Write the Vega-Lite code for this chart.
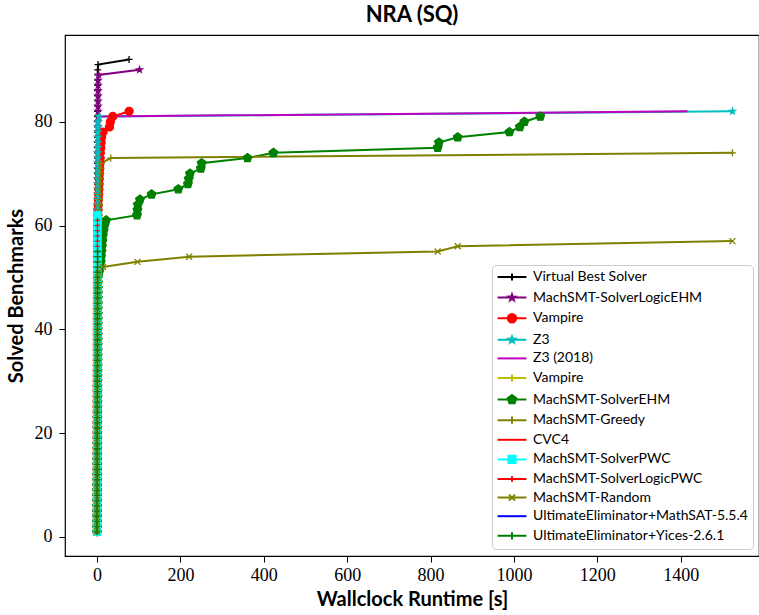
{
"$schema":"https://vega.github.io/schema/vega-lite/v6.json",
"autosize":"none",
"width":694,"height":521,
"padding":{"left":65,"top":35,"right":0,"bottom":59},
"background":"white",
"title":{"text":"NRA (SQ)","font":"Lato","fontSize":22,"fontWeight":"bold","color":"black","anchor":"middle","offset":8},
"config":{
"view":{"stroke":"black","strokeWidth":1.2},
"axis":{"grid":false,"domain":false,"tickColor":"black","tickSize":6,"tickWidth":1,"labelFont":"Liberation Serif","labelFontSize":18,"labelColor":"black","titleFont":"Lato","titleFontSize":20,"titleFontWeight":"bold","titleColor":"black"},
"axisX":{"labelPadding":4,"titlePadding":5},
"axisY":{"labelPadding":7,"titlePadding":8}
},
"data":{"values":[
{"s":"a","t":0.02,"n":1},{"s":"a","t":0.04,"n":2},{"s":"a","t":0.06,"n":3},{"s":"a","t":0.08,"n":4},{"s":"a","t":0.1,"n":5},{"s":"a","t":0.12,"n":6},{"s":"a","t":0.14,"n":7},{"s":"a","t":0.16,"n":8},{"s":"a","t":0.18,"n":9},{"s":"a","t":0.2,"n":10},
{"s":"a","t":0.22,"n":11},{"s":"a","t":0.24,"n":12},{"s":"a","t":0.26,"n":13},{"s":"a","t":0.28,"n":14},{"s":"a","t":0.3,"n":15},{"s":"a","t":0.32,"n":16},{"s":"a","t":0.34,"n":17},{"s":"a","t":0.36,"n":18},{"s":"a","t":0.38,"n":19},{"s":"a","t":0.4,"n":20},
{"s":"a","t":0.42,"n":21},{"s":"a","t":0.44,"n":22},{"s":"a","t":0.46,"n":23},{"s":"a","t":0.48,"n":24},{"s":"a","t":0.5,"n":25},{"s":"a","t":0.52,"n":26},{"s":"a","t":0.54,"n":27},{"s":"a","t":0.56,"n":28},{"s":"a","t":0.58,"n":29},{"s":"a","t":0.6,"n":30},
{"s":"a","t":0.62,"n":31},{"s":"a","t":0.64,"n":32},{"s":"a","t":0.66,"n":33},{"s":"a","t":0.68,"n":34},{"s":"a","t":0.7,"n":35},{"s":"a","t":0.72,"n":36},{"s":"a","t":0.74,"n":37},{"s":"a","t":0.76,"n":38},{"s":"a","t":0.78,"n":39},{"s":"a","t":0.8,"n":40},
{"s":"a","t":0.82,"n":41},{"s":"a","t":0.84,"n":42},{"s":"a","t":0.86,"n":43},{"s":"a","t":0.88,"n":44},{"s":"a","t":0.9,"n":45},{"s":"a","t":0.92,"n":46},{"s":"a","t":0.94,"n":47},{"s":"a","t":0.96,"n":48},{"s":"a","t":0.98,"n":49},{"s":"a","t":1.0,"n":50},
{"s":"a","t":1.02,"n":51},{"s":"a","t":1.04,"n":52},{"s":"a","t":1.06,"n":53},{"s":"a","t":1.08,"n":54},{"s":"a","t":1.1,"n":55},{"s":"a","t":1.12,"n":56},{"s":"a","t":1.14,"n":57},{"s":"a","t":1.16,"n":58},{"s":"a","t":1.18,"n":59},{"s":"a","t":1.2,"n":60},
{"s":"a","t":1.22,"n":61},{"s":"a","t":1.24,"n":62},{"s":"a","t":1.26,"n":63},{"s":"a","t":1.28,"n":64},{"s":"a","t":1.3,"n":65},{"s":"a","t":1.32,"n":66},{"s":"a","t":1.34,"n":67},{"s":"a","t":1.36,"n":68},{"s":"a","t":1.38,"n":69},{"s":"a","t":1.4,"n":70},
{"s":"a","t":1.42,"n":71},{"s":"a","t":1.44,"n":72},{"s":"a","t":1.46,"n":73},{"s":"a","t":1.48,"n":74},{"s":"a","t":1.5,"n":75},{"s":"a","t":1.52,"n":76},{"s":"a","t":1.54,"n":77},{"s":"a","t":1.56,"n":78},{"s":"a","t":1.58,"n":79},{"s":"a","t":1.6,"n":80},
{"s":"a","t":1.62,"n":81},{"s":"a","t":1.64,"n":82},{"s":"a","t":1.66,"n":83},{"s":"a","t":1.68,"n":84},{"s":"a","t":1.7,"n":85},{"s":"a","t":1.72,"n":86},{"s":"a","t":1.74,"n":87},{"s":"a","t":1.76,"n":88},{"s":"a","t":1.78,"n":89},{"s":"a","t":1.8,"n":90},
{"s":"a","t":2.5,"n":91},{"s":"a","t":77,"n":92},
{"s":"b","t":0.03,"n":1},{"s":"b","t":0.06,"n":2},{"s":"b","t":0.09,"n":3},{"s":"b","t":0.12,"n":4},{"s":"b","t":0.15,"n":5},{"s":"b","t":0.18,"n":6},{"s":"b","t":0.21,"n":7},{"s":"b","t":0.24,"n":8},{"s":"b","t":0.27,"n":9},{"s":"b","t":0.3,"n":10},
{"s":"b","t":0.33,"n":11},{"s":"b","t":0.36,"n":12},{"s":"b","t":0.39,"n":13},{"s":"b","t":0.42,"n":14},{"s":"b","t":0.45,"n":15},{"s":"b","t":0.48,"n":16},{"s":"b","t":0.51,"n":17},{"s":"b","t":0.54,"n":18},{"s":"b","t":0.57,"n":19},{"s":"b","t":0.6,"n":20},
{"s":"b","t":0.63,"n":21},{"s":"b","t":0.66,"n":22},{"s":"b","t":0.69,"n":23},{"s":"b","t":0.72,"n":24},{"s":"b","t":0.75,"n":25},{"s":"b","t":0.78,"n":26},{"s":"b","t":0.81,"n":27},{"s":"b","t":0.84,"n":28},{"s":"b","t":0.87,"n":29},{"s":"b","t":0.9,"n":30},
{"s":"b","t":0.93,"n":31},{"s":"b","t":0.96,"n":32},{"s":"b","t":0.99,"n":33},{"s":"b","t":1.02,"n":34},{"s":"b","t":1.05,"n":35},{"s":"b","t":1.08,"n":36},{"s":"b","t":1.11,"n":37},{"s":"b","t":1.14,"n":38},{"s":"b","t":1.17,"n":39},{"s":"b","t":1.2,"n":40},
{"s":"b","t":1.23,"n":41},{"s":"b","t":1.26,"n":42},{"s":"b","t":1.29,"n":43},{"s":"b","t":1.32,"n":44},{"s":"b","t":1.35,"n":45},{"s":"b","t":1.38,"n":46},{"s":"b","t":1.41,"n":47},{"s":"b","t":1.44,"n":48},{"s":"b","t":1.47,"n":49},{"s":"b","t":1.5,"n":50},
{"s":"b","t":1.53,"n":51},{"s":"b","t":1.56,"n":52},{"s":"b","t":1.59,"n":53},{"s":"b","t":1.62,"n":54},{"s":"b","t":1.65,"n":55},{"s":"b","t":1.68,"n":56},{"s":"b","t":1.71,"n":57},{"s":"b","t":1.74,"n":58},{"s":"b","t":1.77,"n":59},{"s":"b","t":1.8,"n":60},
{"s":"b","t":1.83,"n":61},{"s":"b","t":1.86,"n":62},{"s":"b","t":1.89,"n":63},{"s":"b","t":1.92,"n":64},{"s":"b","t":1.95,"n":65},{"s":"b","t":1.98,"n":66},{"s":"b","t":2.01,"n":67},{"s":"b","t":2.04,"n":68},{"s":"b","t":2.07,"n":69},{"s":"b","t":2.1,"n":70},
{"s":"b","t":2.13,"n":71},{"s":"b","t":2.16,"n":72},{"s":"b","t":2.19,"n":73},{"s":"b","t":2.22,"n":74},{"s":"b","t":2.25,"n":75},{"s":"b","t":2.28,"n":76},{"s":"b","t":2.31,"n":77},{"s":"b","t":2.34,"n":78},{"s":"b","t":2.37,"n":79},{"s":"b","t":2.4,"n":80},
{"s":"b","t":2.43,"n":81},{"s":"b","t":2.46,"n":82},{"s":"b","t":2.49,"n":83},{"s":"b","t":2.52,"n":84},{"s":"b","t":2.55,"n":85},{"s":"b","t":2.58,"n":86},{"s":"b","t":2.61,"n":87},{"s":"b","t":2.64,"n":88},{"s":"b","t":4,"n":89},{"s":"b","t":102,"n":90},
{"s":"c","t":0.02,"n":1},{"s":"c","t":0.04,"n":2},{"s":"c","t":0.06,"n":3},{"s":"c","t":0.08,"n":4},{"s":"c","t":0.1,"n":5},{"s":"c","t":0.12,"n":6},{"s":"c","t":0.14,"n":7},{"s":"c","t":0.16,"n":8},{"s":"c","t":0.18,"n":9},{"s":"c","t":0.2,"n":10},
{"s":"c","t":0.22,"n":11},{"s":"c","t":0.24,"n":12},{"s":"c","t":0.26,"n":13},{"s":"c","t":0.28,"n":14},{"s":"c","t":0.3,"n":15},{"s":"c","t":0.32,"n":16},{"s":"c","t":0.34,"n":17},{"s":"c","t":0.36,"n":18},{"s":"c","t":0.38,"n":19},{"s":"c","t":0.4,"n":20},
{"s":"c","t":0.42,"n":21},{"s":"c","t":0.44,"n":22},{"s":"c","t":0.46,"n":23},{"s":"c","t":0.48,"n":24},{"s":"c","t":0.5,"n":25},{"s":"c","t":0.52,"n":26},{"s":"c","t":0.54,"n":27},{"s":"c","t":0.56,"n":28},{"s":"c","t":0.58,"n":29},{"s":"c","t":0.6,"n":30},
{"s":"c","t":0.62,"n":31},{"s":"c","t":0.64,"n":32},{"s":"c","t":0.66,"n":33},{"s":"c","t":0.68,"n":34},{"s":"c","t":0.7,"n":35},{"s":"c","t":0.72,"n":36},{"s":"c","t":0.74,"n":37},{"s":"c","t":0.76,"n":38},{"s":"c","t":0.78,"n":39},{"s":"c","t":0.8,"n":40},
{"s":"c","t":0.82,"n":41},{"s":"c","t":0.84,"n":42},{"s":"c","t":0.86,"n":43},{"s":"c","t":0.88,"n":44},{"s":"c","t":0.9,"n":45},{"s":"c","t":0.92,"n":46},{"s":"c","t":0.94,"n":47},{"s":"c","t":0.96,"n":48},{"s":"c","t":0.98,"n":49},{"s":"c","t":1.0,"n":50},
{"s":"c","t":1.02,"n":51},{"s":"c","t":1.04,"n":52},{"s":"c","t":1.06,"n":53},{"s":"c","t":1.08,"n":54},{"s":"c","t":1.1,"n":55},{"s":"c","t":1.12,"n":56},{"s":"c","t":1.14,"n":57},{"s":"c","t":1.16,"n":58},{"s":"c","t":1.18,"n":59},{"s":"c","t":1.2,"n":60},
{"s":"c","t":1.5,"n":61},{"s":"c","t":2,"n":62},{"s":"c","t":2.5,"n":63},{"s":"c","t":3,"n":64},{"s":"c","t":3.5,"n":65},{"s":"c","t":4,"n":66},{"s":"c","t":4.5,"n":67},{"s":"c","t":5,"n":68},{"s":"c","t":5.5,"n":69},{"s":"c","t":6,"n":70},
{"s":"c","t":6.5,"n":71},{"s":"c","t":7,"n":72},{"s":"c","t":7.5,"n":73},{"s":"c","t":8,"n":74},{"s":"c","t":9,"n":75},{"s":"c","t":10,"n":76},{"s":"c","t":11,"n":77},{"s":"c","t":14.5,"n":78},{"s":"c","t":30,"n":79},{"s":"c","t":32,"n":80},
{"s":"c","t":38,"n":81},{"s":"c","t":77,"n":82},
{"s":"d","t":0.03,"n":1},{"s":"d","t":0.06,"n":2},{"s":"d","t":0.09,"n":3},{"s":"d","t":0.12,"n":4},{"s":"d","t":0.15,"n":5},{"s":"d","t":0.18,"n":6},{"s":"d","t":0.21,"n":7},{"s":"d","t":0.24,"n":8},{"s":"d","t":0.27,"n":9},{"s":"d","t":0.3,"n":10},
{"s":"d","t":0.33,"n":11},{"s":"d","t":0.36,"n":12},{"s":"d","t":0.39,"n":13},{"s":"d","t":0.42,"n":14},{"s":"d","t":0.45,"n":15},{"s":"d","t":0.48,"n":16},{"s":"d","t":0.51,"n":17},{"s":"d","t":0.54,"n":18},{"s":"d","t":0.57,"n":19},{"s":"d","t":0.6,"n":20},
{"s":"d","t":0.63,"n":21},{"s":"d","t":0.66,"n":22},{"s":"d","t":0.69,"n":23},{"s":"d","t":0.72,"n":24},{"s":"d","t":0.75,"n":25},{"s":"d","t":0.78,"n":26},{"s":"d","t":0.81,"n":27},{"s":"d","t":0.84,"n":28},{"s":"d","t":0.87,"n":29},{"s":"d","t":0.9,"n":30},
{"s":"d","t":0.93,"n":31},{"s":"d","t":0.96,"n":32},{"s":"d","t":0.99,"n":33},{"s":"d","t":1.02,"n":34},{"s":"d","t":1.05,"n":35},{"s":"d","t":1.08,"n":36},{"s":"d","t":1.11,"n":37},{"s":"d","t":1.14,"n":38},{"s":"d","t":1.17,"n":39},{"s":"d","t":1.2,"n":40},
{"s":"d","t":1.23,"n":41},{"s":"d","t":1.26,"n":42},{"s":"d","t":1.29,"n":43},{"s":"d","t":1.32,"n":44},{"s":"d","t":1.35,"n":45},{"s":"d","t":1.38,"n":46},{"s":"d","t":1.41,"n":47},{"s":"d","t":1.44,"n":48},{"s":"d","t":1.47,"n":49},{"s":"d","t":1.5,"n":50},
{"s":"d","t":1.53,"n":51},{"s":"d","t":1.56,"n":52},{"s":"d","t":1.59,"n":53},{"s":"d","t":1.62,"n":54},{"s":"d","t":1.65,"n":55},{"s":"d","t":1.68,"n":56},{"s":"d","t":1.71,"n":57},{"s":"d","t":1.74,"n":58},{"s":"d","t":1.77,"n":59},{"s":"d","t":1.8,"n":60},
{"s":"d","t":1.83,"n":61},{"s":"d","t":1.86,"n":62},{"s":"d","t":1.89,"n":63},{"s":"d","t":1.92,"n":64},{"s":"d","t":1.95,"n":65},{"s":"d","t":1.98,"n":66},{"s":"d","t":2.01,"n":67},{"s":"d","t":2.04,"n":68},{"s":"d","t":2.07,"n":69},{"s":"d","t":2.1,"n":70},
{"s":"d","t":2.13,"n":71},{"s":"d","t":2.16,"n":72},{"s":"d","t":2.19,"n":73},{"s":"d","t":2.22,"n":74},{"s":"d","t":2.25,"n":75},{"s":"d","t":2.28,"n":76},{"s":"d","t":2.31,"n":77},{"s":"d","t":2.34,"n":78},{"s":"d","t":2.37,"n":79},{"s":"d","t":2.4,"n":80},
{"s":"d","t":5,"n":81},{"s":"d","t":1524,"n":82},
{"s":"e","t":0.02,"n":1},{"s":"e","t":0.04,"n":2},{"s":"e","t":0.06,"n":3},{"s":"e","t":0.08,"n":4},{"s":"e","t":0.1,"n":5},{"s":"e","t":0.12,"n":6},{"s":"e","t":0.14,"n":7},{"s":"e","t":0.16,"n":8},{"s":"e","t":0.18,"n":9},{"s":"e","t":0.2,"n":10},
{"s":"e","t":0.22,"n":11},{"s":"e","t":0.24,"n":12},{"s":"e","t":0.26,"n":13},{"s":"e","t":0.28,"n":14},{"s":"e","t":0.3,"n":15},{"s":"e","t":0.32,"n":16},{"s":"e","t":0.34,"n":17},{"s":"e","t":0.36,"n":18},{"s":"e","t":0.38,"n":19},{"s":"e","t":0.4,"n":20},
{"s":"e","t":0.42,"n":21},{"s":"e","t":0.44,"n":22},{"s":"e","t":0.46,"n":23},{"s":"e","t":0.48,"n":24},{"s":"e","t":0.5,"n":25},{"s":"e","t":0.52,"n":26},{"s":"e","t":0.54,"n":27},{"s":"e","t":0.56,"n":28},{"s":"e","t":0.58,"n":29},{"s":"e","t":0.6,"n":30},
{"s":"e","t":0.62,"n":31},{"s":"e","t":0.64,"n":32},{"s":"e","t":0.66,"n":33},{"s":"e","t":0.68,"n":34},{"s":"e","t":0.7,"n":35},{"s":"e","t":0.72,"n":36},{"s":"e","t":0.74,"n":37},{"s":"e","t":0.76,"n":38},{"s":"e","t":0.78,"n":39},{"s":"e","t":0.8,"n":40},
{"s":"e","t":0.82,"n":41},{"s":"e","t":0.84,"n":42},{"s":"e","t":0.86,"n":43},{"s":"e","t":0.88,"n":44},{"s":"e","t":0.9,"n":45},{"s":"e","t":0.92,"n":46},{"s":"e","t":0.94,"n":47},{"s":"e","t":0.96,"n":48},{"s":"e","t":0.98,"n":49},{"s":"e","t":1.0,"n":50},
{"s":"e","t":1.02,"n":51},{"s":"e","t":1.04,"n":52},{"s":"e","t":1.06,"n":53},{"s":"e","t":1.08,"n":54},{"s":"e","t":1.1,"n":55},{"s":"e","t":1.12,"n":56},{"s":"e","t":1.14,"n":57},{"s":"e","t":1.16,"n":58},{"s":"e","t":1.18,"n":59},{"s":"e","t":1.2,"n":60},
{"s":"e","t":1.22,"n":61},{"s":"e","t":1.24,"n":62},{"s":"e","t":1.26,"n":63},{"s":"e","t":1.28,"n":64},{"s":"e","t":1.3,"n":65},{"s":"e","t":1.32,"n":66},{"s":"e","t":1.34,"n":67},{"s":"e","t":1.36,"n":68},{"s":"e","t":1.38,"n":69},{"s":"e","t":1.4,"n":70},
{"s":"e","t":1.42,"n":71},{"s":"e","t":1.44,"n":72},{"s":"e","t":1.46,"n":73},{"s":"e","t":1.48,"n":74},{"s":"e","t":1.5,"n":75},{"s":"e","t":1.52,"n":76},{"s":"e","t":1.54,"n":77},{"s":"e","t":1.56,"n":78},{"s":"e","t":1.58,"n":79},{"s":"e","t":1.6,"n":80},
{"s":"e","t":3,"n":81},{"s":"e","t":1416,"n":82},
{"s":"f","t":0.03,"n":1},{"s":"f","t":0.06,"n":2},{"s":"f","t":0.09,"n":3},{"s":"f","t":0.12,"n":4},{"s":"f","t":0.15,"n":5},{"s":"f","t":0.18,"n":6},{"s":"f","t":0.21,"n":7},{"s":"f","t":0.24,"n":8},{"s":"f","t":0.27,"n":9},{"s":"f","t":0.3,"n":10},
{"s":"f","t":0.33,"n":11},{"s":"f","t":0.36,"n":12},{"s":"f","t":0.39,"n":13},{"s":"f","t":0.42,"n":14},{"s":"f","t":0.45,"n":15},{"s":"f","t":0.48,"n":16},{"s":"f","t":0.51,"n":17},{"s":"f","t":0.54,"n":18},{"s":"f","t":0.57,"n":19},{"s":"f","t":0.6,"n":20},
{"s":"f","t":0.63,"n":21},{"s":"f","t":0.66,"n":22},{"s":"f","t":0.69,"n":23},{"s":"f","t":0.72,"n":24},{"s":"f","t":0.75,"n":25},{"s":"f","t":0.78,"n":26},{"s":"f","t":0.81,"n":27},{"s":"f","t":0.84,"n":28},{"s":"f","t":0.87,"n":29},{"s":"f","t":0.9,"n":30},
{"s":"f","t":0.93,"n":31},{"s":"f","t":0.96,"n":32},{"s":"f","t":0.99,"n":33},{"s":"f","t":1.02,"n":34},{"s":"f","t":1.05,"n":35},{"s":"f","t":1.08,"n":36},{"s":"f","t":1.11,"n":37},{"s":"f","t":1.14,"n":38},{"s":"f","t":1.17,"n":39},{"s":"f","t":1.2,"n":40},
{"s":"f","t":1.23,"n":41},{"s":"f","t":1.26,"n":42},{"s":"f","t":1.29,"n":43},{"s":"f","t":1.32,"n":44},{"s":"f","t":1.35,"n":45},{"s":"f","t":1.38,"n":46},{"s":"f","t":1.41,"n":47},{"s":"f","t":1.44,"n":48},{"s":"f","t":1.47,"n":49},{"s":"f","t":1.5,"n":50},
{"s":"f","t":1.53,"n":51},{"s":"f","t":1.56,"n":52},{"s":"f","t":1.59,"n":53},{"s":"f","t":1.62,"n":54},{"s":"f","t":1.65,"n":55},{"s":"f","t":1.68,"n":56},{"s":"f","t":1.71,"n":57},{"s":"f","t":1.74,"n":58},{"s":"f","t":1.77,"n":59},{"s":"f","t":1.8,"n":60},
{"s":"g","t":0.05,"n":1},{"s":"g","t":0.1,"n":2},{"s":"g","t":0.15,"n":3},{"s":"g","t":0.2,"n":4},{"s":"g","t":0.25,"n":5},{"s":"g","t":0.3,"n":6},{"s":"g","t":0.35,"n":7},{"s":"g","t":0.4,"n":8},{"s":"g","t":0.45,"n":9},{"s":"g","t":0.5,"n":10},
{"s":"g","t":0.55,"n":11},{"s":"g","t":0.6,"n":12},{"s":"g","t":0.65,"n":13},{"s":"g","t":0.7,"n":14},{"s":"g","t":0.75,"n":15},{"s":"g","t":0.8,"n":16},{"s":"g","t":0.85,"n":17},{"s":"g","t":0.9,"n":18},{"s":"g","t":0.95,"n":19},{"s":"g","t":1.0,"n":20},
{"s":"g","t":1.05,"n":21},{"s":"g","t":1.1,"n":22},{"s":"g","t":1.15,"n":23},{"s":"g","t":1.2,"n":24},{"s":"g","t":1.25,"n":25},{"s":"g","t":1.3,"n":26},{"s":"g","t":1.35,"n":27},{"s":"g","t":1.4,"n":28},{"s":"g","t":1.45,"n":29},{"s":"g","t":1.5,"n":30},
{"s":"g","t":1.55,"n":31},{"s":"g","t":1.6,"n":32},{"s":"g","t":1.65,"n":33},{"s":"g","t":1.7,"n":34},{"s":"g","t":1.75,"n":35},{"s":"g","t":1.8,"n":36},{"s":"g","t":1.85,"n":37},{"s":"g","t":1.9,"n":38},{"s":"g","t":1.95,"n":39},{"s":"g","t":2.0,"n":40},
{"s":"g","t":2.05,"n":41},{"s":"g","t":2.1,"n":42},{"s":"g","t":2.15,"n":43},{"s":"g","t":2.2,"n":44},{"s":"g","t":2.25,"n":45},{"s":"g","t":2.3,"n":46},{"s":"g","t":2.35,"n":47},{"s":"g","t":2.4,"n":48},{"s":"g","t":2.45,"n":49},{"s":"g","t":2.5,"n":50},
{"s":"g","t":5,"n":51},{"s":"g","t":7,"n":52},{"s":"g","t":9,"n":53},{"s":"g","t":10,"n":54},{"s":"g","t":11,"n":55},{"s":"g","t":12,"n":56},{"s":"g","t":13,"n":57},{"s":"g","t":14,"n":58},{"s":"g","t":16,"n":59},{"s":"g","t":18,"n":60},
{"s":"g","t":22,"n":61},{"s":"g","t":96,"n":62},{"s":"g","t":97,"n":63},{"s":"g","t":98,"n":64},{"s":"g","t":103,"n":65},{"s":"g","t":131,"n":66},{"s":"g","t":195,"n":67},{"s":"g","t":218,"n":68},{"s":"g","t":220,"n":69},{"s":"g","t":223,"n":70},
{"s":"g","t":249,"n":71},{"s":"g","t":251,"n":72},{"s":"g","t":361,"n":73},{"s":"g","t":423,"n":74},{"s":"g","t":817,"n":75},{"s":"g","t":820,"n":76},{"s":"g","t":865,"n":77},{"s":"g","t":989,"n":78},{"s":"g","t":1014,"n":79},{"s":"g","t":1025,"n":80},
{"s":"g","t":1063,"n":81},
{"s":"h","t":0.04,"n":1},{"s":"h","t":0.08,"n":2},{"s":"h","t":0.12,"n":3},{"s":"h","t":0.16,"n":4},{"s":"h","t":0.2,"n":5},{"s":"h","t":0.24,"n":6},{"s":"h","t":0.28,"n":7},{"s":"h","t":0.32,"n":8},{"s":"h","t":0.36,"n":9},{"s":"h","t":0.4,"n":10},
{"s":"h","t":0.44,"n":11},{"s":"h","t":0.48,"n":12},{"s":"h","t":0.52,"n":13},{"s":"h","t":0.56,"n":14},{"s":"h","t":0.6,"n":15},{"s":"h","t":0.64,"n":16},{"s":"h","t":0.68,"n":17},{"s":"h","t":0.72,"n":18},{"s":"h","t":0.76,"n":19},{"s":"h","t":0.8,"n":20},
{"s":"h","t":0.84,"n":21},{"s":"h","t":0.88,"n":22},{"s":"h","t":0.92,"n":23},{"s":"h","t":0.96,"n":24},{"s":"h","t":1.0,"n":25},{"s":"h","t":1.04,"n":26},{"s":"h","t":1.08,"n":27},{"s":"h","t":1.12,"n":28},{"s":"h","t":1.16,"n":29},{"s":"h","t":1.2,"n":30},
{"s":"h","t":1.24,"n":31},{"s":"h","t":1.28,"n":32},{"s":"h","t":1.32,"n":33},{"s":"h","t":1.36,"n":34},{"s":"h","t":1.4,"n":35},{"s":"h","t":1.44,"n":36},{"s":"h","t":1.48,"n":37},{"s":"h","t":1.52,"n":38},{"s":"h","t":1.56,"n":39},{"s":"h","t":1.6,"n":40},
{"s":"h","t":1.64,"n":41},{"s":"h","t":1.68,"n":42},{"s":"h","t":1.72,"n":43},{"s":"h","t":1.76,"n":44},{"s":"h","t":1.8,"n":45},{"s":"h","t":1.84,"n":46},{"s":"h","t":1.88,"n":47},{"s":"h","t":1.92,"n":48},{"s":"h","t":1.96,"n":49},{"s":"h","t":2.0,"n":50},
{"s":"h","t":2.04,"n":51},{"s":"h","t":2.5,"n":52},{"s":"h","t":3,"n":53},{"s":"h","t":3.3,"n":54},{"s":"h","t":3.6,"n":55},{"s":"h","t":3.9,"n":56},{"s":"h","t":4.2,"n":57},{"s":"h","t":4.5,"n":58},{"s":"h","t":4.8,"n":59},{"s":"h","t":5.1,"n":60},
{"s":"h","t":5.4,"n":61},{"s":"h","t":5.7,"n":62},{"s":"h","t":6,"n":63},{"s":"h","t":6.3,"n":64},{"s":"h","t":6.6,"n":65},{"s":"h","t":6.9,"n":66},{"s":"h","t":7.2,"n":67},{"s":"h","t":7.5,"n":68},{"s":"h","t":8,"n":69},{"s":"h","t":8.5,"n":70},
{"s":"h","t":9,"n":71},{"s":"h","t":10.5,"n":72},{"s":"h","t":33,"n":73},{"s":"h","t":1524,"n":74},
{"s":"i","t":0.03,"n":1},{"s":"i","t":0.06,"n":2},{"s":"i","t":0.09,"n":3},{"s":"i","t":0.12,"n":4},{"s":"i","t":0.15,"n":5},{"s":"i","t":0.18,"n":6},{"s":"i","t":0.21,"n":7},{"s":"i","t":0.24,"n":8},{"s":"i","t":0.27,"n":9},{"s":"i","t":0.3,"n":10},
{"s":"i","t":0.33,"n":11},{"s":"i","t":0.36,"n":12},{"s":"i","t":0.39,"n":13},{"s":"i","t":0.42,"n":14},{"s":"i","t":0.45,"n":15},{"s":"i","t":0.48,"n":16},{"s":"i","t":0.51,"n":17},{"s":"i","t":0.54,"n":18},{"s":"i","t":0.57,"n":19},{"s":"i","t":0.6,"n":20},
{"s":"i","t":0.63,"n":21},{"s":"i","t":0.66,"n":22},{"s":"i","t":0.69,"n":23},{"s":"i","t":0.72,"n":24},{"s":"i","t":0.75,"n":25},{"s":"i","t":0.78,"n":26},{"s":"i","t":0.81,"n":27},{"s":"i","t":0.84,"n":28},{"s":"i","t":0.87,"n":29},{"s":"i","t":0.9,"n":30},
{"s":"i","t":0.93,"n":31},{"s":"i","t":0.96,"n":32},{"s":"i","t":0.99,"n":33},{"s":"i","t":1.02,"n":34},{"s":"i","t":1.05,"n":35},{"s":"i","t":1.08,"n":36},{"s":"i","t":1.11,"n":37},{"s":"i","t":1.14,"n":38},{"s":"i","t":1.17,"n":39},{"s":"i","t":1.2,"n":40},
{"s":"i","t":1.23,"n":41},{"s":"i","t":1.26,"n":42},{"s":"i","t":1.29,"n":43},{"s":"i","t":1.32,"n":44},{"s":"i","t":1.35,"n":45},{"s":"i","t":1.38,"n":46},{"s":"i","t":1.41,"n":47},{"s":"i","t":1.44,"n":48},{"s":"i","t":1.47,"n":49},{"s":"i","t":1.5,"n":50},
{"s":"i","t":1.53,"n":51},{"s":"i","t":1.56,"n":52},{"s":"i","t":1.59,"n":53},{"s":"i","t":1.62,"n":54},{"s":"i","t":1.65,"n":55},{"s":"i","t":1.68,"n":56},{"s":"i","t":1.71,"n":57},{"s":"i","t":1.74,"n":58},{"s":"i","t":1.77,"n":59},{"s":"i","t":1.8,"n":60},
{"s":"i","t":1.83,"n":61},{"s":"i","t":1.86,"n":62},{"s":"i","t":1.89,"n":63},{"s":"i","t":1.92,"n":64},{"s":"i","t":1.95,"n":65},{"s":"i","t":1.98,"n":66},{"s":"i","t":2.01,"n":67},{"s":"i","t":2.04,"n":68},{"s":"i","t":2.07,"n":69},{"s":"i","t":2.1,"n":70},
{"s":"i","t":2.13,"n":71},{"s":"i","t":2.16,"n":72},{"s":"i","t":2.19,"n":73},{"s":"i","t":2.22,"n":74},{"s":"i","t":2.25,"n":75},{"s":"i","t":2.28,"n":76},{"s":"i","t":2.31,"n":77},{"s":"i","t":2.34,"n":78},{"s":"i","t":2.37,"n":79},
{"s":"j","t":0.02,"n":1},{"s":"j","t":0.04,"n":2},{"s":"j","t":0.06,"n":3},{"s":"j","t":0.08,"n":4},{"s":"j","t":0.1,"n":5},{"s":"j","t":0.12,"n":6},{"s":"j","t":0.14,"n":7},{"s":"j","t":0.16,"n":8},{"s":"j","t":0.18,"n":9},{"s":"j","t":0.2,"n":10},
{"s":"j","t":0.22,"n":11},{"s":"j","t":0.24,"n":12},{"s":"j","t":0.26,"n":13},{"s":"j","t":0.28,"n":14},{"s":"j","t":0.3,"n":15},{"s":"j","t":0.32,"n":16},{"s":"j","t":0.34,"n":17},{"s":"j","t":0.36,"n":18},{"s":"j","t":0.38,"n":19},{"s":"j","t":0.4,"n":20},
{"s":"j","t":0.42,"n":21},{"s":"j","t":0.44,"n":22},{"s":"j","t":0.46,"n":23},{"s":"j","t":0.48,"n":24},{"s":"j","t":0.5,"n":25},{"s":"j","t":0.52,"n":26},{"s":"j","t":0.54,"n":27},{"s":"j","t":0.56,"n":28},{"s":"j","t":0.58,"n":29},{"s":"j","t":0.6,"n":30},
{"s":"j","t":0.62,"n":31},{"s":"j","t":0.64,"n":32},{"s":"j","t":0.66,"n":33},{"s":"j","t":0.68,"n":34},{"s":"j","t":0.7,"n":35},{"s":"j","t":0.72,"n":36},{"s":"j","t":0.74,"n":37},{"s":"j","t":0.76,"n":38},{"s":"j","t":0.78,"n":39},{"s":"j","t":0.8,"n":40},
{"s":"j","t":0.82,"n":41},{"s":"j","t":0.84,"n":42},{"s":"j","t":0.86,"n":43},{"s":"j","t":0.88,"n":44},{"s":"j","t":0.9,"n":45},{"s":"j","t":0.92,"n":46},{"s":"j","t":0.94,"n":47},{"s":"j","t":0.96,"n":48},{"s":"j","t":0.98,"n":49},{"s":"j","t":1.0,"n":50},
{"s":"j","t":1.02,"n":51},{"s":"j","t":1.04,"n":52},{"s":"j","t":1.06,"n":53},{"s":"j","t":1.08,"n":54},{"s":"j","t":1.1,"n":55},{"s":"j","t":1.12,"n":56},{"s":"j","t":1.14,"n":57},{"s":"j","t":1.16,"n":58},{"s":"j","t":1.18,"n":59},{"s":"j","t":1.2,"n":60},
{"s":"j","t":1.22,"n":61},{"s":"j","t":1.24,"n":62},
{"s":"k","t":0.02,"n":1},{"s":"k","t":0.04,"n":2},{"s":"k","t":0.06,"n":3},{"s":"k","t":0.08,"n":4},{"s":"k","t":0.1,"n":5},{"s":"k","t":0.12,"n":6},{"s":"k","t":0.14,"n":7},{"s":"k","t":0.16,"n":8},{"s":"k","t":0.18,"n":9},{"s":"k","t":0.2,"n":10},
{"s":"k","t":0.22,"n":11},{"s":"k","t":0.24,"n":12},{"s":"k","t":0.26,"n":13},{"s":"k","t":0.28,"n":14},{"s":"k","t":0.3,"n":15},{"s":"k","t":0.32,"n":16},{"s":"k","t":0.34,"n":17},{"s":"k","t":0.36,"n":18},{"s":"k","t":0.38,"n":19},{"s":"k","t":0.4,"n":20},
{"s":"k","t":0.42,"n":21},{"s":"k","t":0.44,"n":22},{"s":"k","t":0.46,"n":23},{"s":"k","t":0.48,"n":24},{"s":"k","t":0.5,"n":25},{"s":"k","t":0.52,"n":26},{"s":"k","t":0.54,"n":27},{"s":"k","t":0.56,"n":28},{"s":"k","t":0.58,"n":29},{"s":"k","t":0.6,"n":30},
{"s":"k","t":0.62,"n":31},{"s":"k","t":0.64,"n":32},{"s":"k","t":0.66,"n":33},{"s":"k","t":0.68,"n":34},{"s":"k","t":0.7,"n":35},{"s":"k","t":0.72,"n":36},{"s":"k","t":0.74,"n":37},{"s":"k","t":0.76,"n":38},{"s":"k","t":0.78,"n":39},{"s":"k","t":0.8,"n":40},
{"s":"k","t":0.82,"n":41},{"s":"k","t":0.84,"n":42},{"s":"k","t":0.86,"n":43},{"s":"k","t":0.88,"n":44},{"s":"k","t":0.9,"n":45},{"s":"k","t":0.92,"n":46},{"s":"k","t":0.94,"n":47},{"s":"k","t":0.96,"n":48},{"s":"k","t":0.98,"n":49},{"s":"k","t":1.0,"n":50},
{"s":"k","t":1.02,"n":51},{"s":"k","t":1.04,"n":52},{"s":"k","t":1.06,"n":53},{"s":"k","t":1.08,"n":54},{"s":"k","t":1.1,"n":55},{"s":"k","t":1.12,"n":56},{"s":"k","t":1.14,"n":57},{"s":"k","t":1.16,"n":58},{"s":"k","t":1.18,"n":59},{"s":"k","t":1.2,"n":60},
{"s":"k","t":1.22,"n":61},
{"s":"l","t":0.03,"n":1},{"s":"l","t":0.06,"n":2},{"s":"l","t":0.09,"n":3},{"s":"l","t":0.12,"n":4},{"s":"l","t":0.15,"n":5},{"s":"l","t":0.18,"n":6},{"s":"l","t":0.21,"n":7},{"s":"l","t":0.24,"n":8},{"s":"l","t":0.27,"n":9},{"s":"l","t":0.3,"n":10},
{"s":"l","t":0.33,"n":11},{"s":"l","t":0.36,"n":12},{"s":"l","t":0.39,"n":13},{"s":"l","t":0.42,"n":14},{"s":"l","t":0.45,"n":15},{"s":"l","t":0.48,"n":16},{"s":"l","t":0.51,"n":17},{"s":"l","t":0.54,"n":18},{"s":"l","t":0.57,"n":19},{"s":"l","t":0.6,"n":20},
{"s":"l","t":0.63,"n":21},{"s":"l","t":0.66,"n":22},{"s":"l","t":0.69,"n":23},{"s":"l","t":0.72,"n":24},{"s":"l","t":0.75,"n":25},{"s":"l","t":0.78,"n":26},{"s":"l","t":0.81,"n":27},{"s":"l","t":0.84,"n":28},{"s":"l","t":0.87,"n":29},{"s":"l","t":0.9,"n":30},
{"s":"l","t":0.93,"n":31},{"s":"l","t":0.96,"n":32},{"s":"l","t":0.99,"n":33},{"s":"l","t":1.02,"n":34},{"s":"l","t":1.05,"n":35},{"s":"l","t":1.08,"n":36},{"s":"l","t":1.11,"n":37},{"s":"l","t":1.14,"n":38},{"s":"l","t":1.17,"n":39},{"s":"l","t":1.2,"n":40},
{"s":"l","t":1.23,"n":41},{"s":"l","t":1.26,"n":42},{"s":"l","t":1.29,"n":43},{"s":"l","t":1.32,"n":44},{"s":"l","t":1.35,"n":45},{"s":"l","t":1.38,"n":46},{"s":"l","t":1.41,"n":47},{"s":"l","t":1.44,"n":48},{"s":"l","t":1.47,"n":49},{"s":"l","t":1.5,"n":50},
{"s":"l","t":4,"n":51},{"s":"l","t":14.5,"n":52},{"s":"l","t":97,"n":53},{"s":"l","t":221,"n":54},{"s":"l","t":817,"n":55},{"s":"l","t":865,"n":56},{"s":"l","t":1524,"n":57},
{"s":"m","t":0.02,"n":1},{"s":"m","t":0.04,"n":2},{"s":"m","t":0.06,"n":3},{"s":"m","t":0.08,"n":4},{"s":"m","t":0.1,"n":5},{"s":"m","t":0.12,"n":6},{"s":"m","t":0.14,"n":7},{"s":"m","t":0.16,"n":8},{"s":"m","t":0.18,"n":9},{"s":"m","t":0.2,"n":10},
{"s":"m","t":0.22,"n":11},{"s":"m","t":0.24,"n":12},{"s":"m","t":0.26,"n":13},{"s":"m","t":0.28,"n":14},{"s":"m","t":0.3,"n":15},{"s":"m","t":0.32,"n":16},{"s":"m","t":0.34,"n":17},{"s":"m","t":0.36,"n":18},{"s":"m","t":0.38,"n":19},{"s":"m","t":0.4,"n":20},
{"s":"m","t":0.42,"n":21},{"s":"m","t":0.44,"n":22},{"s":"m","t":0.46,"n":23},{"s":"m","t":0.48,"n":24},{"s":"m","t":0.5,"n":25},{"s":"m","t":0.52,"n":26},{"s":"m","t":0.54,"n":27},{"s":"m","t":0.56,"n":28},{"s":"m","t":0.58,"n":29},{"s":"m","t":0.6,"n":30},
{"s":"m","t":0.62,"n":31},{"s":"m","t":0.64,"n":32},{"s":"m","t":0.66,"n":33},{"s":"m","t":0.68,"n":34},{"s":"m","t":0.7,"n":35},{"s":"m","t":0.72,"n":36},{"s":"m","t":0.74,"n":37},{"s":"m","t":0.76,"n":38},{"s":"m","t":0.78,"n":39},{"s":"m","t":0.8,"n":40},
{"s":"m","t":0.82,"n":41},{"s":"m","t":0.84,"n":42},{"s":"m","t":0.86,"n":43},{"s":"m","t":0.88,"n":44},{"s":"m","t":0.9,"n":45},{"s":"m","t":0.92,"n":46},{"s":"m","t":0.94,"n":47},{"s":"m","t":0.96,"n":48},{"s":"m","t":0.98,"n":49},{"s":"m","t":1.0,"n":50},
{"s":"n","t":0.03,"n":1},{"s":"n","t":0.06,"n":2},{"s":"n","t":0.09,"n":3},{"s":"n","t":0.12,"n":4},{"s":"n","t":0.15,"n":5},{"s":"n","t":0.18,"n":6},{"s":"n","t":0.21,"n":7},{"s":"n","t":0.24,"n":8},{"s":"n","t":0.27,"n":9},{"s":"n","t":0.3,"n":10},
{"s":"n","t":0.33,"n":11},{"s":"n","t":0.36,"n":12},{"s":"n","t":0.39,"n":13},{"s":"n","t":0.42,"n":14},{"s":"n","t":0.45,"n":15},{"s":"n","t":0.48,"n":16},{"s":"n","t":0.51,"n":17},{"s":"n","t":0.54,"n":18},{"s":"n","t":0.57,"n":19},{"s":"n","t":0.6,"n":20},
{"s":"n","t":0.63,"n":21},{"s":"n","t":0.66,"n":22},{"s":"n","t":0.69,"n":23},{"s":"n","t":0.72,"n":24},{"s":"n","t":0.75,"n":25},{"s":"n","t":0.78,"n":26},{"s":"n","t":0.81,"n":27},{"s":"n","t":0.84,"n":28},{"s":"n","t":0.87,"n":29},{"s":"n","t":0.9,"n":30},
{"s":"n","t":0.93,"n":31},{"s":"n","t":0.96,"n":32},{"s":"n","t":0.99,"n":33},{"s":"n","t":1.02,"n":34},{"s":"n","t":1.05,"n":35},{"s":"n","t":1.08,"n":36},{"s":"n","t":1.11,"n":37},{"s":"n","t":1.14,"n":38},{"s":"n","t":1.17,"n":39},{"s":"n","t":1.2,"n":40},
{"s":"n","t":1.23,"n":41},{"s":"n","t":1.26,"n":42},{"s":"n","t":1.29,"n":43},{"s":"n","t":1.32,"n":44},{"s":"n","t":1.35,"n":45},{"s":"n","t":1.38,"n":46},{"s":"n","t":1.41,"n":47},{"s":"n","t":1.44,"n":48},{"s":"n","t":1.47,"n":49},{"s":"n","t":1.5,"n":50},
{"s":"n","t":1.53,"n":51},{"s":"n","t":1.56,"n":52},{"s":"n","t":1.59,"n":53},{"s":"n","t":1.62,"n":54},{"s":"n","t":1.65,"n":55}
]},
"encoding":{
"x":{"field":"t","type":"quantitative","scale":{"domain":[-76.7,1587.6],"nice":false,"zero":false},"axis":{"values":[0,200,400,600,800,1000,1200,1400],"format":"d","title":"Wallclock Runtime [s]","labelFont":"Liberation Serif","labelFontSize":18}},
"y":{"field":"n","type":"quantitative","scale":{"domain":[-3.66,96.7],"nice":false,"zero":false},"axis":{"values":[0,20,40,60,80],"format":"d","title":"Solved Benchmarks","labelFont":"Liberation Serif","labelFontSize":18}}
},
"layer":[
{"mark":{"type":"line","strokeWidth":2,"clip":true},
"encoding":{
"color":{"field":"s","type":"nominal",
"scale":{"domain":["a","b","c","d","e","f","g","h","i","j","k","l","m","n"],"range":["#000000","#800080","#ff0000","#00bfbf","#bf00bf","#bfbf00","#008000","#808000","#ff0000","#00ffff","#ff0000","#808000","#0000ff","#008000"]},
"legend":{"title":null,"orient":"none","legendX":427,"legendY":230,
"labelExpr":"({'a':'Virtual Best Solver','b':'MachSMT-SolverLogicEHM','c':'Vampire','d':'Z3','e':'Z3 (2018)','f':'Vampire','g':'MachSMT-SolverEHM','h':'MachSMT-Greedy','i':'CVC4','j':'MachSMT-SolverPWC','k':'MachSMT-SolverLogicPWC','l':'MachSMT-Random','m':'UltimateEliminator+MathSAT-5.5.4','n':'UltimateEliminator+Yices-2.6.1'})[datum.value]",
"labelFont":"Lato","labelFontSize":14,"labelColor":"black","symbolSize":144,"symbolStrokeWidth":2,"symbolOffset":8,"labelOffset":14,"rowPadding":4.6,"padding":5,"strokeColor":"#cccccc","fillColor":"white","cornerRadius":4,"labelLimit":400,
"encode":{"symbols":{"update":{
"shape":{"signal":"({'a':'M-2.4,0L2.4,0M0,-0.6L0,0.6','b':'M-2.4,0L2.4,0M0,-0.55L0.13,-0.178L0.523,-0.17L0.209,0.068L0.323,0.445L0,0.22L-0.323,0.445L-0.209,0.068L-0.523,-0.17L-0.13,-0.178Z','c':'M-2.4,0L2.4,0M0.7,0A0.7,0.7 0 1,1 -0.7,0A0.7,0.7 0 1,1 0.7,0Z','d':'M-2.4,0L2.4,0M0,-0.55L0.13,-0.178L0.523,-0.17L0.209,0.068L0.323,0.445L0,0.22L-0.323,0.445L-0.209,0.068L-0.523,-0.17L-0.13,-0.178Z','e':'M-2.4,0L2.4,0','f':'M-2.4,0L2.4,0M0,-0.6L0,0.6','g':'M-2.4,0L2.4,0M0,-0.75L0.713,-0.232L0.441,0.607L-0.441,0.607L-0.713,-0.232Z','h':'M-2.4,0L2.4,0M0,-0.6L0,0.6','i':'M-2.4,0L2.4,0','j':'M-2.4,0L2.4,0M-0.6,-0.6L0.6,-0.6L0.6,0.6L-0.6,0.6Z','k':'M-2.4,0L2.4,0M0,-0.45L0,0.45','l':'M-2.4,0L2.4,0M-0.5,-0.5L0.5,0.5M-0.5,0.5L0.5,-0.5','m':'M-2.4,0L2.4,0','n':'M-2.4,0L2.4,0M0,-0.6L0,0.6'})[datum.value]"},
"fill":{"signal":"scale('color', datum.value)"},
"stroke":{"signal":"scale('color', datum.value)"},
"strokeWidth":{"value":2},
"size":{"value":144},
"opacity":{"value":1}
}}}
}},
"order":{"field":"n","type":"quantitative"}
}},
{"transform":[{"filter":"datum.s != 'e' && datum.s != 'i' && datum.s != 'm'"}],
"mark":{"type":"point","filled":true,"size":100,"strokeWidth":1.3,"opacity":1,"clip":true},
"encoding":{
"fill":{"field":"s","type":"nominal","scale":{"domain":["a","b","c","d","f","g","h","j","k","l","n"],"range":["#000000","#800080","#ff0000","#00bfbf","#bfbf00","#008000","#808000","#00ffff","#ff0000","#808000","#008000"]},"legend":null},
"stroke":{"field":"s","type":"nominal","scale":{"domain":["a","b","c","d","f","g","h","j","k","l","n"],"range":["#000000","#800080","#ff0000","#00bfbf","#bfbf00","#008000","#808000","#00ffff","#ff0000","#808000","#008000"]},"legend":null},
"shape":{"field":"s","type":"nominal","scale":{"domain":["a","b","c","d","f","g","h","j","k","l","n"],"range":["M-0.7,0L0.7,0M0,-0.7L0,0.7","M0,-0.6L0.141,-0.194L0.571,-0.185L0.228,0.074L0.353,0.485L0,0.24L-0.353,0.485L-0.228,0.074L-0.571,-0.185L-0.141,-0.194Z","M0.8,0A0.8,0.8 0 1,1 -0.8,0A0.8,0.8 0 1,1 0.8,0Z","M0,-0.6L0.141,-0.194L0.571,-0.185L0.228,0.074L0.353,0.485L0,0.24L-0.353,0.485L-0.228,0.074L-0.571,-0.185L-0.141,-0.194Z","M-0.7,0L0.7,0M0,-0.7L0,0.7","M0,-0.9L0.856,-0.278L0.529,0.728L-0.529,0.728L-0.856,-0.278Z","M-0.7,0L0.7,0M0,-0.7L0,0.7","M-0.7,-0.7L0.7,-0.7L0.7,0.7L-0.7,0.7Z","M-0.5,0L0.5,0M0,-0.5L0,0.5","M-0.6,-0.6L0.6,0.6M-0.6,0.6L0.6,-0.6","M-0.7,0L0.7,0M0,-0.7L0,0.7"]},"legend":null}
}}
]
}
